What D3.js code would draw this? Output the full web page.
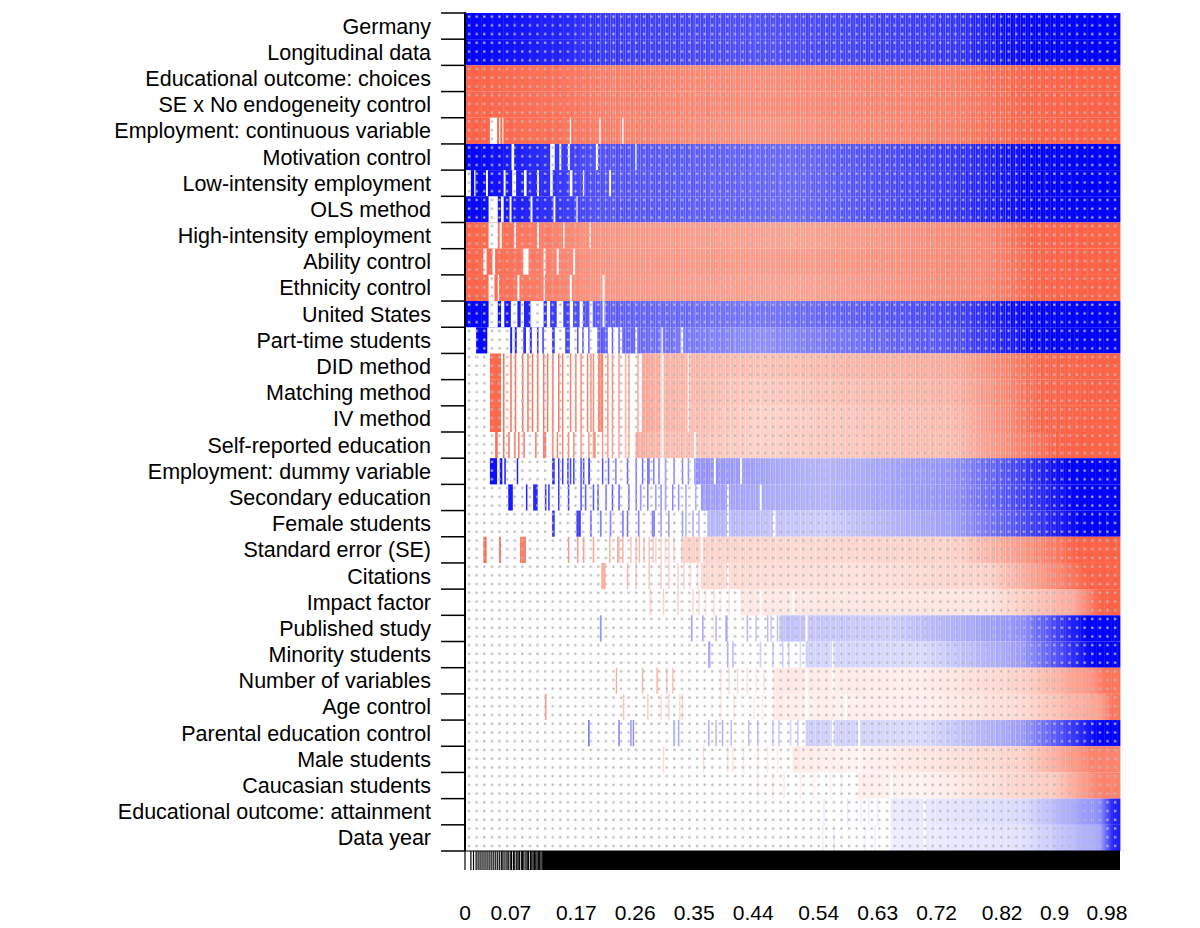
<!DOCTYPE html>
<html><head><meta charset="utf-8">
<script src="https://cdn.jsdelivr.net/npm/d3@7"></script>
<style>body{margin:0;background:#fff}</style></head>
<body><svg id="c" width="1200" height="928"></svg>
<script>
const variables = ["Germany","Longitudinal data","Educational outcome: choices","SE x No endogeneity control","Employment: continuous variable","Motivation control","Low-intensity employment","OLS method","High-intensity employment","Ability control","Ethnicity control","United States","Part-time students","DID method","Matching method","IV method","Self-reported education","Employment: dummy variable","Secondary education","Female students","Standard error (SE)","Citations","Impact factor","Published study","Minority students","Number of variables","Age control","Parental education control","Male students","Caucasian students","Educational outcome: attainment","Data year"];
const signs = [1,1,-1,-1,-1,1,1,1,-1,-1,-1,1,1,-1,-1,-1,-1,1,1,1,-1,-1,-1,1,1,-1,-1,1,-1,-1,1,1];
// colour intensity knots per variable: [cumulative model prob, intensity 0..1]
const intensity = [
 [[0,1],[0.2,0.8],[0.45,0.7],[0.75,0.8],[0.82,0.95],[0.86,1]],
 [[0,1],[0.2,0.8],[0.45,0.7],[0.75,0.8],[0.82,0.95],[0.86,1]],
 [[0,1],[0.2,0.85],[0.45,0.75],[0.75,0.85],[0.85,1]],
 [[0,1],[0.2,0.85],[0.45,0.75],[0.75,0.85],[0.85,1]],
 [[0,1],[0.2,0.85],[0.45,0.7],[0.75,0.85],[0.85,1]],
 [[0,1],[0.2,0.7],[0.5,0.6],[0.75,0.8],[0.86,1]],
 [[0,1],[0.2,0.7],[0.5,0.6],[0.75,0.8],[0.86,1]],
 [[0,1],[0.2,0.7],[0.5,0.6],[0.75,0.8],[0.86,1]],
 [[0,1],[0.2,0.7],[0.5,0.6],[0.8,0.8],[0.86,1]],
 [[0,1],[0.2,0.7],[0.5,0.65],[0.8,0.8],[0.87,1]],
 [[0,1],[0.2,0.7],[0.5,0.6],[0.8,0.8],[0.87,1]],
 [[0,1],[0.05,0.95],[0.2,0.65],[0.45,0.55],[0.75,0.75],[0.85,1]],
 [[0,1],[0.2,0.65],[0.45,0.45],[0.75,0.7],[0.87,1]],
 [[0,1],[0.2,0.8],[0.3,0.5],[0.45,0.4],[0.75,0.55],[0.88,1]],
 [[0,1],[0.2,0.8],[0.3,0.5],[0.45,0.35],[0.75,0.5],[0.88,1]],
 [[0,1],[0.2,0.8],[0.3,0.5],[0.45,0.3],[0.75,0.45],[0.88,1]],
 [[0,1],[0.2,0.7],[0.3,0.45],[0.45,0.3],[0.75,0.45],[0.9,1]],
 [[0,1],[0.2,0.7],[0.35,0.45],[0.55,0.3],[0.75,0.45],[0.92,1]],
 [[0,1],[0.2,0.7],[0.36,0.4],[0.55,0.3],[0.75,0.45],[0.93,1]],
 [[0,1],[0.2,0.7],[0.37,0.3],[0.55,0.2],[0.75,0.4],[0.94,1]],
 [[0,1],[0.2,0.6],[0.33,0.3],[0.5,0.25],[0.75,0.3],[0.9,0.85],[0.93,1]],
 [[0,1],[0.25,0.45],[0.36,0.25],[0.6,0.2],[0.8,0.3],[0.92,0.85],[0.95,1]],
 [[0,1],[0.3,0.35],[0.42,0.15],[0.8,0.18],[0.93,0.55],[0.97,1]],
 [[0,1],[0.25,0.5],[0.48,0.25],[0.65,0.2],[0.85,0.45],[0.95,1]],
 [[0,1],[0.37,0.35],[0.52,0.18],[0.7,0.15],[0.85,0.4],[0.96,1]],
 [[0,1],[0.3,0.4],[0.47,0.15],[0.7,0.12],[0.85,0.3],[0.96,0.7],[0.98,0.9]],
 [[0,1],[0.3,0.3],[0.47,0.12],[0.7,0.1],[0.85,0.25],[0.97,0.6],[0.99,0.9]],
 [[0,1],[0.3,0.4],[0.52,0.2],[0.7,0.15],[0.85,0.4],[0.97,1]],
 [[0,0.5],[0.4,0.2],[0.6,0.08],[0.85,0.3],[0.96,0.8]],
 [[0,0.2],[0.5,0.15],[0.7,0.08],[0.9,0.35],[0.97,0.8]],
 [[0,0.15],[0.65,0.08],[0.85,0.15],[0.97,0.45],[0.99,0.9]],
 [[0,0.15],[0.65,0.07],[0.85,0.12],[0.97,0.35],[0.99,0.9]]
];
// where each variable's continuous run of included models begins
const fillFrom = [0,0,0,0,0,0,0.009,0,0,0,0,0,0.24,0.27,0.27,0.27,0.26,0.35,0.36,0.37,0.33,0.36,0.42,0.48,0.52,0.47,0.47,0.52,0.5,0.6,0.65,0.65];
// isolated included models before that run: [from, to]
const stripes = [
 [],[],[],[],[],[],[],[],[],[],[],[],
 [[0.017,0.034],[0.069,0.072],[0.076,0.079],[0.089,0.093],[0.099,0.102],[0.11,0.112],[0.118,0.12],[0.133,0.137],[0.153,0.16],[0.171,0.173],[0.179,0.181],[0.188,0.19],[0.202,0.218],[0.224,0.226],[0.234,0.236]],
 [[0.038,0.055],[0.058,0.06],[0.069,0.071],[0.076,0.078],[0.087,0.089],[0.095,0.097],[0.102,0.104],[0.11,0.112],[0.119,0.121],[0.125,0.127],[0.133,0.135],[0.142,0.144],[0.148,0.15],[0.16,0.162],[0.168,0.17],[0.176,0.178],[0.186,0.188],[0.191,0.193],[0.195,0.197],[0.203,0.211],[0.217,0.219],[0.224,0.226],[0.234,0.236],[0.244,0.246],[0.249,0.251],[0.263,0.265]],
 [[0.038,0.055],[0.058,0.06],[0.069,0.071],[0.076,0.078],[0.087,0.089],[0.095,0.097],[0.102,0.104],[0.11,0.112],[0.119,0.121],[0.125,0.127],[0.133,0.135],[0.142,0.144],[0.148,0.15],[0.16,0.162],[0.168,0.17],[0.176,0.178],[0.186,0.188],[0.191,0.193],[0.195,0.197],[0.203,0.211],[0.217,0.219],[0.224,0.226],[0.234,0.236],[0.244,0.246],[0.249,0.251],[0.263,0.265]],
 [[0.038,0.055],[0.058,0.06],[0.069,0.071],[0.076,0.078],[0.087,0.089],[0.095,0.097],[0.102,0.104],[0.11,0.112],[0.119,0.121],[0.125,0.127],[0.133,0.135],[0.142,0.144],[0.148,0.15],[0.16,0.162],[0.168,0.17],[0.176,0.178],[0.186,0.188],[0.191,0.193],[0.195,0.197],[0.203,0.211],[0.217,0.219],[0.224,0.226],[0.234,0.236],[0.244,0.246],[0.249,0.251],[0.263,0.265]],
 [[0.046,0.05],[0.058,0.06],[0.066,0.068],[0.075,0.077],[0.081,0.083],[0.089,0.091],[0.107,0.109],[0.119,0.124],[0.133,0.135],[0.14,0.142],[0.148,0.15],[0.157,0.159],[0.165,0.167],[0.176,0.178],[0.188,0.19],[0.195,0.2],[0.209,0.211],[0.217,0.219],[0.224,0.226],[0.234,0.236],[0.244,0.246],[0.249,0.251]],
 [[0.038,0.049],[0.053,0.057],[0.06,0.062],[0.079,0.081],[0.133,0.137],[0.142,0.144],[0.148,0.15],[0.156,0.158],[0.16,0.162],[0.165,0.167],[0.176,0.178],[0.18,0.182],[0.188,0.191],[0.209,0.211],[0.218,0.22],[0.229,0.231],[0.247,0.249],[0.26,0.262],[0.27,0.272],[0.278,0.282],[0.287,0.289],[0.295,0.297],[0.305,0.307],[0.318,0.32],[0.331,0.333],[0.34,0.342]],
 [[0.066,0.073],[0.093,0.095],[0.104,0.111],[0.122,0.124],[0.127,0.129],[0.142,0.144],[0.157,0.159],[0.176,0.178],[0.183,0.185],[0.195,0.197],[0.202,0.204],[0.214,0.216],[0.224,0.226],[0.234,0.236],[0.249,0.251],[0.26,0.262],[0.267,0.269],[0.278,0.28],[0.29,0.292],[0.298,0.3],[0.305,0.307],[0.316,0.318],[0.325,0.327],[0.336,0.338],[0.351,0.353]],
 [[0.133,0.137],[0.17,0.177],[0.191,0.193],[0.206,0.208],[0.221,0.223],[0.24,0.242],[0.247,0.249],[0.264,0.266],[0.285,0.29],[0.298,0.3],[0.31,0.312],[0.331,0.333],[0.336,0.338],[0.347,0.349],[0.356,0.358]],
 [[0.028,0.033],[0.052,0.055],[0.084,0.093],[0.157,0.159],[0.171,0.173],[0.18,0.182],[0.195,0.197],[0.22,0.222],[0.232,0.236],[0.24,0.242],[0.252,0.254],[0.26,0.262],[0.265,0.267],[0.272,0.274],[0.28,0.282],[0.286,0.288],[0.29,0.292],[0.298,0.3],[0.305,0.307],[0.31,0.312],[0.318,0.32]],
 [[0.208,0.215],[0.247,0.249],[0.26,0.262],[0.28,0.282],[0.298,0.3],[0.31,0.312],[0.324,0.326],[0.333,0.335],[0.343,0.345],[0.354,0.356]],
 [[0.282,0.284],[0.302,0.304],[0.324,0.326],[0.347,0.349],[0.356,0.358],[0.366,0.368],[0.379,0.381],[0.389,0.391],[0.402,0.404]],
 [[0.206,0.208],[0.345,0.347],[0.362,0.364],[0.382,0.384],[0.397,0.401],[0.43,0.432],[0.443,0.445],[0.461,0.463],[0.466,0.468],[0.476,0.478]],
 [[0.371,0.375],[0.4,0.402],[0.408,0.41],[0.45,0.452],[0.469,0.471],[0.484,0.486],[0.493,0.495],[0.511,0.513]],
 [[0.23,0.232],[0.27,0.272],[0.292,0.295],[0.307,0.309],[0.316,0.318],[0.389,0.391],[0.402,0.404],[0.415,0.417],[0.43,0.432],[0.443,0.445],[0.455,0.457]],
 [[0.122,0.124],[0.241,0.243],[0.278,0.28],[0.298,0.3],[0.31,0.312],[0.327,0.329],[0.331,0.333],[0.389,0.391],[0.409,0.411],[0.44,0.442],[0.453,0.455]],
 [[0.188,0.19],[0.234,0.236],[0.252,0.254],[0.256,0.258],[0.318,0.32],[0.325,0.327],[0.371,0.373],[0.382,0.384],[0.392,0.394],[0.405,0.407],[0.432,0.434],[0.446,0.448],[0.469,0.471],[0.478,0.48],[0.496,0.498],[0.507,0.509]],
 [[0.302,0.304],[0.363,0.365],[0.4,0.402],[0.408,0.41],[0.424,0.426],[0.446,0.448],[0.461,0.463],[0.476,0.478]],
 [[0.446,0.448],[0.469,0.471],[0.486,0.488],[0.511,0.513],[0.531,0.533],[0.557,0.559],[0.573,0.575]],
 [[0.547,0.549],[0.583,0.585],[0.603,0.605],[0.615,0.617],[0.629,0.631]],
 [[0.545,0.547],[0.562,0.564],[0.61,0.612],[0.625,0.627]]
];
// white gaps (models excluding the variable) inside the continuous run
const gaps = [
 [],[],[],[],
 [[0.038,0.049],[0.052,0.054],[0.057,0.058],[0.16,0.162],[0.205,0.207],[0.24,0.242]],
 [[0.071,0.075],[0.13,0.137],[0.144,0.147],[0.157,0.16],[0.2,0.203],[0.26,0.262]],
 [[0.014,0.016],[0.032,0.035],[0.059,0.062],[0.072,0.078],[0.09,0.094],[0.11,0.113],[0.13,0.134],[0.16,0.164],[0.18,0.182],[0.22,0.223]],
 [[0.036,0.05],[0.055,0.059],[0.068,0.071],[0.1,0.103],[0.135,0.138],[0.17,0.172]],
 [[0.036,0.05],[0.053,0.056],[0.075,0.078],[0.11,0.113],[0.15,0.152],[0.19,0.192]],
 [[0.028,0.033],[0.042,0.046],[0.089,0.097],[0.12,0.123],[0.14,0.143],[0.165,0.168]],
 [[0.036,0.045],[0.05,0.052],[0.08,0.083],[0.12,0.122],[0.16,0.163],[0.21,0.213]],
 [[0.036,0.05],[0.055,0.06],[0.07,0.08],[0.085,0.09],[0.1,0.12],[0.125,0.13],[0.14,0.15],[0.16,0.165],[0.175,0.18],[0.19,0.195],[0.21,0.213]],
 [[0.26,0.263],[0.3,0.302],[0.33,0.333]],
 [[0.3,0.303],[0.34,0.342]],[[0.3,0.303],[0.34,0.342]],[[0.3,0.303],[0.34,0.342]],
 [[0.3,0.303],[0.35,0.353]],
 [[0.38,0.383],[0.42,0.423]],[[0.4,0.403],[0.45,0.453]],[[0.4,0.403],[0.47,0.474]],
 [[0.36,0.363]],[[0.4,0.403]],[[0.45,0.453],[0.5,0.503]],[[0.52,0.523]],[[0.56,0.563]],
 [[0.52,0.523],[0.56,0.563]],[[0.52,0.523],[0.58,0.583]],[[0.56,0.563],[0.6,0.603]],
 [[0.55,0.553],[0.6,0.603]],[[0.65,0.653]],[[0.7,0.703]],[[0.7,0.703]]
];
// cumulative model probabilities at the first model boundaries (bottom rug)
const modelEdges = [0,0.009,0.013,0.017,0.02,0.023,0.026,0.029,0.032,0.035,0.038,0.041,0.044,0.047,0.05,0.053,0.056,0.058,0.061,0.064,0.066,0.069,0.071,0.074,0.076,0.079,0.081,0.083,0.086,0.088,0.09,0.093,0.095,0.097,0.1,0.102,0.104,0.106,0.108,0.11,0.112,0.114,0.116,0.118,0.12];
const denseFrom = 0.12;
const tickLabels = ["0","0.07","0.17","0.26","0.35","0.44","0.54","0.63","0.72","0.82","0.9","0.98"];
const tickValues = [0,0.07,0.17,0.26,0.35,0.44,0.54,0.63,0.72,0.82,0.9,0.98];

const svg = d3.select("#c");
const L=465,R=1120,T=13,B=851;
const x = d3.scaleLinear().domain([0,1]).range([L,R]);
const y = d3.scaleBand().domain(variables).range([T,B]);
const blue = d3.interpolateRgb("#ffffff","#0000ff");
const red = d3.interpolateRgb("#ffffff","#ff6347");

const defs = svg.append("defs");
const pat = defs.append("pattern").attr("id","dots").attr("patternUnits","userSpaceOnUse")
  .attr("width",7.6).attr("height",8.73).attr("x",L).attr("y",T);
pat.append("rect").attr("x",3).attr("y",2.5).attr("width",2.2).attr("height",2.2).attr("fill","#b8b8b8");
const tex = defs.append("pattern").attr("id","tex").attr("patternUnits","userSpaceOnUse")
  .attr("width",5).attr("height",30).attr("x",L);
tex.append("rect").attr("x",0).attr("y",0).attr("width",1).attr("height",30).attr("fill","#fff").attr("opacity",0.3);
tex.append("rect").attr("x",3).attr("y",0).attr("width",0.6).attr("height",30).attr("fill","#fff").attr("opacity",0.18);
const grad = defs.append("linearGradient").attr("id","texfade");
[[0,0],[0.08,1],[0.85,1],[1,0]].forEach(s=>grad.append("stop").attr("offset",s[0]).attr("stop-color","#fff").attr("stop-opacity",s[1]));
const mask = defs.append("mask").attr("id","texmask");
mask.append("rect").attr("x",x(0.15)).attr("y",T).attr("width",x(0.95)-x(0.15)).attr("height",B-T).attr("fill","url(#texfade)");

function level(k,p){
  let j=0; while(j<k.length-1 && k[j+1][0]<=p) j++;
  if(j===k.length-1) return k[j][1];
  const t=(p-k[j][0])/(k[j+1][0]-k[j][0]);
  return k[j][1]+(k[j+1][1]-k[j][1])*Math.max(0,Math.min(1,t));
}

variables.forEach((v,i)=>{
  const k = intensity[i];
  const col = signs[i]>0?blue:red;
  const g = svg.append("g");
  const n=120, a0=fillFrom[i];
  for(let s=0;s<n;s++){
    const a=a0+(1-a0)*s/n, b=a0+(1-a0)*(s+1)/n;
    g.append("rect").attr("x",x(a)).attr("width",x(b)-x(a)+0.4)
      .attr("y",y(v)).attr("height",y.bandwidth()).attr("fill",col(level(k,(a+b)/2)));
  }
  gaps[i].forEach(gp=>{
    g.append("rect").attr("x",x(gp[0])).attr("width",Math.max(1,x(gp[1])-x(gp[0])))
      .attr("y",y(v)).attr("height",y.bandwidth()).attr("fill","#fff");
  });
  g.selectAll(".s").data(stripes[i]).join("rect").attr("x",d=>x(d[0]))
    .attr("width",d=>Math.max(1.5,x(d[1])-x(d[0]))).attr("y",y(v)).attr("height",y.bandwidth())
    .attr("fill",d=>col(level(k,d[0])));
});
svg.append("rect").attr("x",x(0.15)).attr("y",T).attr("width",x(0.95)-x(0.15)).attr("height",B-T)
  .attr("fill","url(#tex)").attr("mask","url(#texmask)");
svg.append("rect").attr("x",L).attr("y",T).attr("width",R-L).attr("height",B-T).attr("fill","url(#dots)");

// y axis
svg.append("line").attr("x1",L).attr("x2",L).attr("y1",T-1).attr("y2",B).attr("stroke","#000").attr("stroke-width",2);
const bounds = variables.map(v=>y(v)).concat([B]);
svg.selectAll(".yt").data(bounds).join("line").attr("x1",441).attr("x2",L).attr("y1",d=>d).attr("y2",d=>d)
  .attr("stroke","#000").attr("stroke-width",1.5);
svg.selectAll(".yl").data(variables).join("text").attr("x",431).attr("y",v=>y(v)+y.bandwidth()/2)
  .attr("dy","0.35em").attr("text-anchor","end").attr("font-family","Liberation Sans, Arial, sans-serif")
  .attr("font-size",21.5).text(d=>d);

// bottom rug of model boundaries
svg.selectAll(".mt").data(modelEdges).join("line").attr("x1",d=>x(d)).attr("x2",d=>x(d))
  .attr("y1",B).attr("y2",870).attr("stroke","#000").attr("stroke-width",1.2);
svg.append("rect").attr("x",x(denseFrom)).attr("y",B).attr("width",x(1)-x(denseFrom)).attr("height",19).attr("fill","#000");
svg.append("line").attr("x1",L).attr("x2",R).attr("y1",B).attr("y2",B).attr("stroke","#000").attr("stroke-width",1);

svg.selectAll(".xl").data(tickValues).join("text").attr("x",d=>x(d)).attr("y",920)
  .attr("text-anchor","middle").attr("font-family","Liberation Sans, Arial, sans-serif").attr("font-size",21)
  .text((d,i)=>tickLabels[i]);
</script></body></html>
